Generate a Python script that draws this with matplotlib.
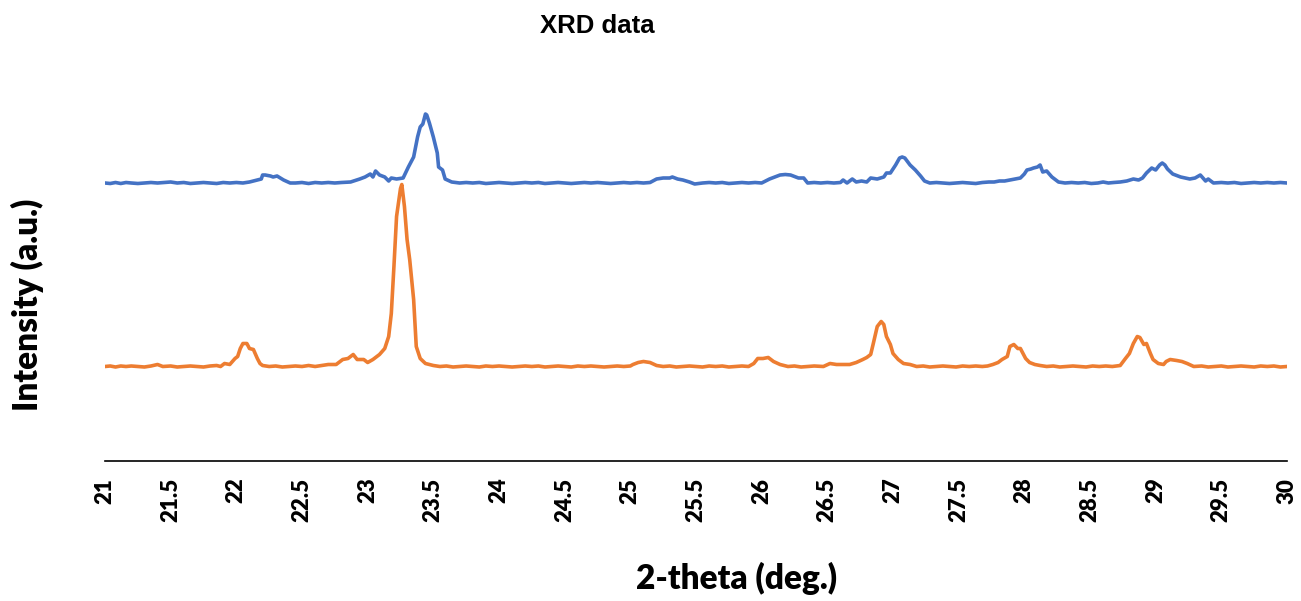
import numpy as np
import matplotlib
matplotlib.use("Agg")
import matplotlib.pyplot as plt

# XRD scans, intensity above each trace's own baseline (a.u.)
two_theta_top = [
    21.00, 21.04, 21.08, 21.12, 21.16, 21.20, 21.25, 21.30, 21.35, 21.40, 21.45, 21.50,
    21.55, 21.60, 21.65, 21.70, 21.75, 21.80, 21.85, 21.90, 21.95, 22.00, 22.05, 22.10,
    22.13, 22.16, 22.19, 22.20, 22.22, 22.26, 22.28, 22.31, 22.36, 22.41, 22.45, 22.50,
    22.55, 22.60, 22.65, 22.70, 22.75, 22.80, 22.87, 22.94, 22.98, 23.02, 23.04, 23.06,
    23.09, 23.13, 23.16, 23.18, 23.22, 23.27, 23.31, 23.35, 23.38, 23.40, 23.42, 23.44,
    23.45, 23.47, 23.50, 23.53, 23.54, 23.57, 23.59, 23.64, 23.70, 23.75, 23.80, 23.85,
    23.90, 23.95, 24.00, 24.05, 24.10, 24.15, 24.20, 24.25, 24.30, 24.35, 24.40, 24.45,
    24.50, 24.55, 24.60, 24.65, 24.70, 24.75, 24.80, 24.85, 24.90, 24.95, 25.00, 25.05,
    25.10, 25.15, 25.20, 25.25, 25.30, 25.32, 25.36, 25.40, 25.45, 25.49, 25.55, 25.60,
    25.65, 25.70, 25.75, 25.80, 25.85, 25.90, 25.95, 26.00, 26.06, 26.10, 26.14, 26.18,
    26.22, 26.28, 26.32, 26.35, 26.40, 26.45, 26.50, 26.55, 26.60, 26.62, 26.65, 26.69,
    26.72, 26.76, 26.80, 26.83, 26.88, 26.93, 26.95, 26.98, 27.02, 27.05, 27.07, 27.09,
    27.13, 27.17, 27.21, 27.24, 27.28, 27.33, 27.38, 27.43, 27.48, 27.53, 27.58, 27.63,
    27.68, 27.73, 27.77, 27.81, 27.85, 27.89, 27.93, 27.97, 28.00, 28.02, 28.05, 28.07,
    28.10, 28.12, 28.14, 28.17, 28.21, 28.26, 28.31, 28.36, 28.41, 28.46, 28.51, 28.56,
    28.60, 28.64, 28.68, 28.73, 28.78, 28.83, 28.87, 28.90, 28.93, 28.97, 29.00, 29.03,
    29.05, 29.07, 29.09, 29.13, 29.19, 29.26, 29.30, 29.34, 29.38, 29.40, 29.44, 29.50,
    29.55, 29.60, 29.65, 29.70, 29.75, 29.80, 29.85, 29.90, 29.95, 30.00,
]
intensity_top = [
    0, -0.5, 0.5, -0.5, 0.5, 0, -0.5, 0, 0.5, 0, 0.5, 1,
    0, 0.5, -0.5, 0, 0.5, 0, -0.5, 0.5, 0, 0.5, 0, 1,
    2, 3, 4, 8, 8, 7, 6, 7, 3, 0, 0, 0.5,
    -0.5, 0.5, 0, 0.5, 0, 0.5, 1, 4, 6, 9, 6, 12,
    8, 6, 2, 5, 4, 5, 16, 26, 46, 56, 59, 69,
    68, 60, 46, 30, 16, 13, 4, 1, 0, 0.5, 0, 0.5,
    -0.5, 0, 0.5, 0, -0.5, 0, 0.5, 0, 0.5, -0.5, 0, 0.5,
    0, -0.5, 0, 0.5, 0, 0.5, 0, -0.5, 0, 0.5, 0, 0.5,
    0, 0.5, 4, 5, 5, 6, 4, 3, 1, -1, 0, 0.5,
    0, 0.5, -0.5, 0, 0.5, 0, 0.5, 0, 4, 6, 8, 8.5,
    8, 5, 5, 0, 0.5, 0, 0.5, 0, 0.5, 3, 0, 4,
    1, 2, 1, 5, 4, 6, 10, 10, 18, 25, 26, 25,
    18, 13, 7, 2, 0, 0.5, 0, -0.5, 0, 0.5, 0, -0.5,
    0.5, 1, 1, 2, 2, 3, 4, 5, 9, 13, 14, 15,
    16, 18, 11, 12, 6, 1, 0, 0.5, 0, 0.5, -0.5, 0,
    1, 0, 0.5, 1, 2, 4, 3, 5, 10, 15, 13, 18,
    20, 18, 14, 9, 6, 4, 5, 8, 2, 4, 0, 0.5,
    0, 0.5, -0.5, 0, 0.5, 0, 0.5, 0, 0.5, 0,
]

two_theta_bottom = [
    21.00, 21.04, 21.08, 21.12, 21.16, 21.20, 21.25, 21.30, 21.35, 21.40, 21.44, 21.50,
    21.55, 21.60, 21.65, 21.70, 21.75, 21.80, 21.85, 21.88, 21.91, 21.95, 21.99, 22.01,
    22.03, 22.05, 22.08, 22.10, 22.13, 22.16, 22.18, 22.20, 22.25, 22.30, 22.35, 22.40,
    22.45, 22.50, 22.55, 22.60, 22.65, 22.70, 22.76, 22.81, 22.85, 22.89, 22.92, 22.97,
    23.00, 23.04, 23.09, 23.13, 23.16, 23.18, 23.20, 23.22, 23.25, 23.26, 23.28, 23.30,
    23.32, 23.35, 23.37, 23.40, 23.44, 23.50, 23.55, 23.60, 23.65, 23.70, 23.75, 23.80,
    23.85, 23.90, 23.95, 24.00, 24.05, 24.10, 24.15, 24.20, 24.25, 24.30, 24.35, 24.40,
    24.45, 24.50, 24.55, 24.60, 24.65, 24.70, 24.75, 24.80, 24.85, 24.90, 24.95, 25.00,
    25.02, 25.06, 25.10, 25.15, 25.20, 25.25, 25.30, 25.35, 25.40, 25.45, 25.50, 25.55,
    25.60, 25.65, 25.70, 25.75, 25.80, 25.85, 25.90, 25.94, 25.97, 26.01, 26.05, 26.09,
    26.14, 26.20, 26.25, 26.30, 26.35, 26.40, 26.47, 26.52, 26.57, 26.62, 26.67, 26.72,
    26.77, 26.80, 26.83, 26.85, 26.88, 26.91, 26.93, 26.95, 26.98, 27.00, 27.04, 27.08,
    27.13, 27.18, 27.23, 27.28, 27.33, 27.38, 27.43, 27.48, 27.53, 27.58, 27.63, 27.68,
    27.72, 27.76, 27.80, 27.83, 27.87, 27.89, 27.92, 27.95, 27.97, 28.01, 28.04, 28.08,
    28.12, 28.17, 28.22, 28.27, 28.32, 28.37, 28.42, 28.47, 28.52, 28.57, 28.62, 28.67,
    28.73, 28.77, 28.80, 28.83, 28.86, 28.88, 28.91, 28.93, 28.96, 28.98, 29.02, 29.06,
    29.08, 29.11, 29.16, 29.20, 29.24, 29.29, 29.35, 29.40, 29.45, 29.50, 29.55, 29.60,
    29.65, 29.70, 29.75, 29.80, 29.85, 29.90, 29.95, 30.00,
]
intensity_bottom = [
    0, 0.5, -0.5, 0.5, 0, 0.5, 0, -0.5, 0.5, 2, 0, 0.5,
    -0.5, 0, 0.5, 0, -0.5, 0.5, 1, 0, 3, 2, 8, 10,
    18, 23, 23, 18, 17, 8, 3, 1, 0, 0.5, -0.5, 0,
    0.5, 0, 1, 0, 1, 2, 2, 7, 8, 12, 7, 7,
    4, 7, 12, 18, 30, 53, 100, 150, 178, 182, 160, 127,
    107, 67, 20, 8, 3, 1, 0, 0.5, -0.5, 0, 0.5, 0,
    -0.5, 0.5, 0, 0.5, 0, -0.5, 0, 0.5, 0, 0.5, -0.5, 0,
    0.5, 0, -0.5, 0.5, 0, 0.5, 0, -0.5, 0, 0.5, 0, 0.5,
    2, 4, 5, 4, 1, 0, 0.5, -0.5, 0, 0.5, 0, -0.5,
    0.5, 0, 0.5, -0.5, 0, 0.5, 0, 3, 8, 8, 9, 5,
    2, 0, 0.5, -0.5, 0, 0.5, 0, 3, 2, 2, 2, 4,
    7, 9, 12, 23, 40, 45, 42, 30, 22, 13, 7, 3,
    2, 0, 0.5, -0.5, 0, 0.5, 0, -0.5, 0.5, 0, 0.5, 0,
    0.5, 2, 4, 7, 10, 20, 22, 18, 18, 8, 4, 2,
    1, 0, 0.5, -0.5, 0, 0.5, 0, -0.5, 0.5, 0, 0.5, 0,
    1, 8, 13, 23, 30, 29, 22, 23, 13, 7, 3, 2,
    5, 7, 6, 5, 3, 0, 0.5, -0.5, 0, 0.5, -0.5, 0,
    0.5, 0, -0.5, 0.5, 0, 0.5, -0.5, 0,
]

offset_top = 278
offset_bottom = 94.5

xticks = np.arange(21, 30.01, 0.5)
xtick_labels = [f"{t:g}" for t in xticks]

assert len(two_theta_top) == len(intensity_top)
assert len(two_theta_bottom) == len(intensity_bottom)

fig = plt.figure(figsize=(13.01, 6.01), dpi=100)
ax = fig.add_axes([105 / 1301, 140 / 601, 1182 / 1301, 361 / 601])

ax.plot(two_theta_top, np.array(intensity_top) + offset_top,
        color="#4472C4", lw=2.6, solid_joinstyle="round")
ax.plot(two_theta_bottom, np.array(intensity_bottom) + offset_bottom,
        color="#ED7D31", lw=2.6, solid_joinstyle="round")

ax.set_xlim(21, 30)
ax.set_ylim(0, 361)
for s in ["top", "right", "left"]:
    ax.spines[s].set_visible(False)
ax.spines["bottom"].set_color("#000000")
ax.spines["bottom"].set_linewidth(1.2)
ax.set_yticks([])
ax.set_xticks(xticks)
ax.set_xticklabels(xtick_labels, rotation=90, va="top", ha="center",
                   family="Lato", fontweight="heavy", fontsize=16)
ax.tick_params(axis="x", length=0, pad=12)

fig.text(597 / 1301, 1 - 26 / 601, "XRD data", ha="center", va="center",
         family="Liberation Sans", fontweight="bold", fontsize=18.5)
fig.text(737 / 1301, 1 - 578 / 601, "2-theta (deg.)", ha="center", va="center",
         family="Lato", fontweight="heavy", fontsize=24)
fig.text(27 / 1301, 1 - 305 / 601, "Intensity (a.u.)", ha="center", va="center",
         rotation=90, family="Lato", fontweight="heavy", fontsize=24)

fig.savefig("out.png", dpi=100)
